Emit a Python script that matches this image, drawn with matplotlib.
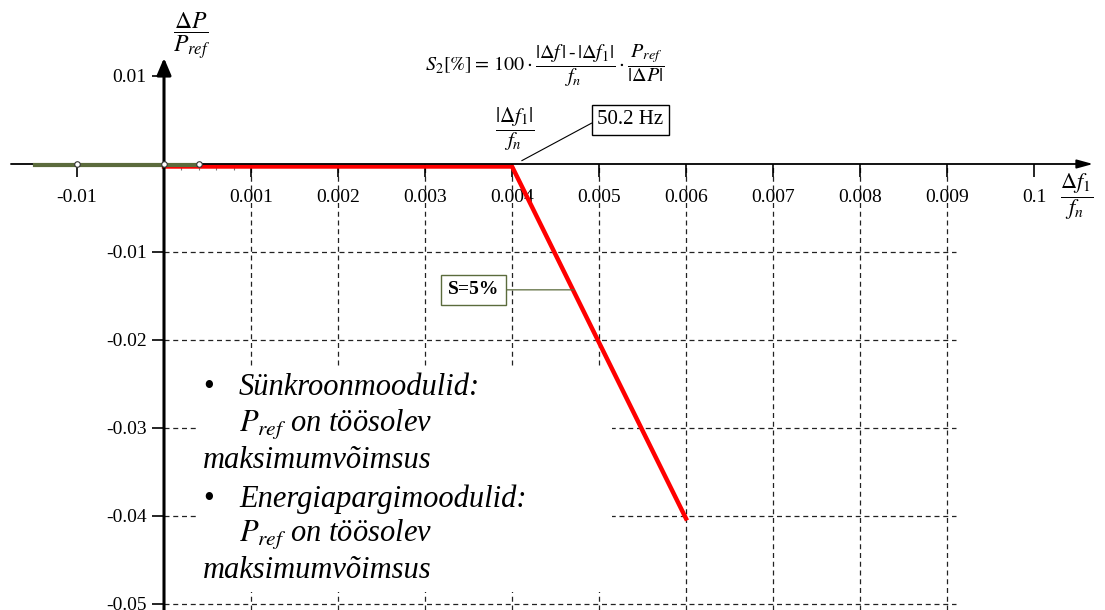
import numpy as np
import matplotlib
matplotlib.use('Agg')
import matplotlib.pyplot as plt
from matplotlib import transforms
from matplotlib.patches import Rectangle

plt.rcParams['font.family'] = ['Liberation Serif', 'DejaVu Serif']
plt.rcParams['mathtext.fontset'] = 'stix'

# ---- data ----
x_ticks = [-0.001, 0.001, 0.002, 0.003, 0.004, 0.005, 0.006, 0.007, 0.008, 0.009, 0.010]
x_labels = ['-0.01', '0.001', '0.002', '0.003', '0.004', '0.005', '0.006',
            '0.007', '0.008', '0.009', '0.1']
x_minor = [0.0002, 0.0004, 0.0006, 0.0008]
y_ticks = [0.01, -0.01, -0.02, -0.03, -0.04, -0.05]
y_labels = ['0.01', '-0.01', '-0.02', '-0.03', '-0.04', '-0.05']
grid_x = [0.001, 0.002, 0.003, 0.004, 0.005, 0.006, 0.007, 0.008, 0.009]
grid_y = [-0.01, -0.02, -0.03, -0.04, -0.05]

droop_x = [0.0, 0.004, 0.006]      # red characteristic
droop_y = [0.0, 0.0, -0.04]
dead_x = [-0.00148, 0.0004]        # green band
dead_y = [0.0, 0.0]
dots_x = [-0.001, 0.0, 0.0004]
dots_y = [0.0, 0.0, 0.0]
s_label_y = -0.0143

GREEN = '#5b6b3c'

# ---- figure ----
fig = plt.figure(figsize=(11.05, 6.10), dpi=100)
ax = fig.add_axes([0, 0, 1, 1])
ax.set_xlim(-0.0018851, 0.0108161)
ax.set_ylim(-0.050682, 0.018636)
ax.patch.set_alpha(0)

for s in ['top', 'right']:
    ax.spines[s].set_visible(False)
ax.spines['left'].set_position(('data', 0))
ax.spines['bottom'].set_position(('data', 0))
ax.spines['left'].set_visible(False)
ax.spines['bottom'].set_visible(False)

ax.set_xticks(x_ticks)
ax.set_xticklabels(x_labels)
ax.set_xticks(x_minor, minor=True)
ax.set_yticks(y_ticks)
ax.set_yticklabels(y_labels)
ax.tick_params(axis='x', which='major', direction='out', length=9, width=1.2, pad=9, labelsize=14)
ax.tick_params(axis='x', which='minor', direction='out', length=4, width=0.8, color='#777777')
ax.tick_params(axis='y', which='major', direction='out', length=8.5, width=1.2, pad=4, labelsize=14)

# dashed grid
dash = (0, (4, 3))
ax.vlines(grid_x, ax.get_ylim()[0], 0, colors='#222222', linewidth=0.9, linestyles=[dash], zorder=1)
ax.hlines(grid_y, 0, 0.009103, colors='#222222', linewidth=0.9, linestyles=[dash], zorder=1)

# white panel behind the notes
ax.add_patch(Rectangle((0.000379, -0.04864), 0.004771, 0.02557, facecolor='white',
                       edgecolor='none', zorder=2))

# axes with arrows
ax.annotate('', xy=(0.010678, 0), xytext=(-0.001759, 0),
            arrowprops=dict(arrowstyle='-|>,head_length=0.8,head_width=0.22', color='black',
                            lw=1.3, mutation_scale=12, shrinkA=0, shrinkB=0), zorder=5)
ax.annotate('', xy=(0, 0.01205), xytext=(0, ax.get_ylim()[0]),
            arrowprops=dict(arrowstyle='-|>,head_length=0.85,head_width=0.36', color='black',
                            lw=2.2, mutation_scale=12, shrinkA=0, shrinkB=0), zorder=5)

# characteristics
red_tr = transforms.offset_copy(ax.transData, fig=fig, x=0, y=-2.5, units='dots')
ax.plot(droop_x, droop_y, color='#ff0000', lw=3.2, transform=red_tr, zorder=4,
        solid_joinstyle='miter')
green_tr = transforms.offset_copy(ax.transData, fig=fig, x=0, y=-0.8, units='dots')
ax.plot(dead_x, dead_y, color=GREEN, lw=3.0, transform=green_tr, zorder=6)
ax.plot(dots_x, dots_y, 'o', ms=4, mfc='white', mec='#333333', mew=0.8, zorder=7)

# labels
ax.text(0.000322, 0.014545, r'$\dfrac{\Delta P}{P_{ref}}$', fontsize=17,
        ha='center', va='center')
ax.text(0.010494, -0.00375, r'$\dfrac{\Delta f_{\mathit{1}}}{f_n}$', fontsize=16,
        ha='center', va='center')
ax.text(0.004379, 0.0112,
        r'$S_2\mathit{[\%]}{=}\,\mathit{100}\cdot\dfrac{|\Delta f\,|\,\mathrm{‐}\,|\Delta f_{\mathit{1}}|}{f_n}\cdot\dfrac{P_{ref}}{|\Delta P|}$',
        fontsize=14.5, ha='center', va='center')
ax.text(0.004034, 0.0040, r'$\dfrac{|\Delta f_{\mathit{1}}|}{f_n}$', fontsize=15,
        ha='center', va='center')

ax.annotate('50.2 Hz', xy=(0.004112, 0.000375), xytext=(0.005362, 0.005),
            fontsize=15, ha='center', va='center',
            bbox=dict(boxstyle='square,pad=0.25', fc='white', ec='black', lw=1),
            arrowprops=dict(arrowstyle='-', color='black', lw=0.8, relpos=(0, 0.5),
                            shrinkA=0, shrinkB=0))

s_x = np.interp(-s_label_y, [-y for y in droop_y[1:]], droop_x[1:])
ax.annotate('S=5%', xy=(s_x, s_label_y), xytext=(0.003563, s_label_y),
            fontsize=14, fontweight='bold', ha='center', va='center',
            bbox=dict(boxstyle='square,pad=0.35', fc='white', ec=GREEN, lw=1),
            arrowprops=dict(arrowstyle='-', color=GREEN, lw=0.9, relpos=(1, 0.5),
                            shrinkA=0, shrinkB=0), zorder=7)

# notes
note_lines = [
    (True, 'Sünkroonmoodulid:', -0.02625),
    (False, r'$P_{ref}$ on töösolev', -0.03042),
    (None, 'maksimumvõimsus', -0.03455),
    (True, 'Energiapargimoodulid:', -0.03894),
    (False, r'$P_{ref}$ on töösolev', -0.04292),
    (None, 'maksimumvõimsus', -0.04705),
]
for bullet, txt, yb in note_lines:
    if bullet:
        ax.text(0.000448, yb, '\u2022', fontsize=22, va='baseline', ha='left', zorder=8)
    xs = 0.000448 if bullet is None else 0.000862
    ax.text(xs, yb, txt, fontsize=22, style='italic', va='baseline', ha='left', zorder=8)

fig.savefig('out.png', dpi=100)
